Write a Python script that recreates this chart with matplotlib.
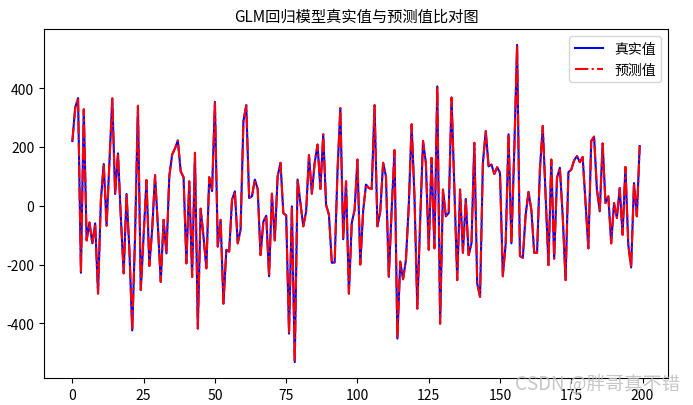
import matplotlib
matplotlib.use("Agg")
import matplotlib.pyplot as plt
import numpy as np

plt.rcParams['font.family'] = ['Noto Sans CJK SC', 'DejaVu Sans']
plt.rcParams['axes.unicode_minus'] = False

title = "GLM回归模型真实值与预测值比对图"
label_true = "真实值"
label_pred = "预测值"

y_true = [220, 334, 366, -228, 328, -118, -57, -128, -60, -299,
          20, 142, -68, 150, 365, 40, 178, -40, -230, 40,
          -150, -424, -100, 340, -287, -100, 87, -205, -80, 104,
          -70, -259, -48, -162, 100, 174, 195, 222, 117, 97,
          -196, 83, -242, 180, -418, -10, -105, -213, 97, 50,
          353, -139, -48, -333, -150, -156, 20, 49, -128, -82,
          288, 342, 26, 32, 89, 57, -168, -54, -34, -240,
          41, -118, 100, 146, -25, -33, -435, -2, -532, 89,
          9, -70, -19, 172, 41, 146, 208, 57, 243, 3,
          -31, -194, -193, 117, 332, -114, 83, -299, -59, -14,
          157, -200, -17, 72, 60, 57, 342, -70, -19, 146,
          100, -242, -14, 189, -452, -190, -250, -185, 0, 277,
          32, -350, -50, 220, 146, -150, 163, -145, 406, -401,
          55, -36, -25, 368, 55, -253, 55, -160, 23, -168,
          -128, 214, -264, -310, 146, 254, 134, 140, 108, 131,
          112, -240, -128, 243, -128, 186, 547, -171, -177, -31,
          47, -14, -160, -160, 123, 271, 30, -202, 157, -180,
          95, 129, -36, -253, 114, 123, 154, 169, 148, 166,
          9, -145, 220, 235, 55, -19, 212, 9, 32, -128,
          9, -42, 60, -99, 132, -133, -210, 77, -36, 203]
y_pred = list(y_true)
x = np.arange(len(y_true))

fig = plt.figure(figsize=(6.93, 4.06), dpi=100)
ax = fig.add_axes([0.0635, 0.0665, 0.9005, 0.8595])
ax.plot(x, y_true, 'b-', linewidth=1.5, label=label_true)
ax.plot(x, y_pred, 'r-.', linewidth=1.5, label=label_pred)
ax.set_xticks([0, 25, 50, 75, 100, 125, 150, 175, 200])
ax.set_yticks([-400, -200, 0, 200, 400])
ax.set_title(title, fontsize=11)
ax.legend(loc='upper right')
fig.text(0.982, 0.052, "CSDN @胖哥真不错", ha='right', va='center',
         fontsize=13.5, color='#bdbdbd', alpha=0.85)
fig.savefig("out.png", dpi=100)
